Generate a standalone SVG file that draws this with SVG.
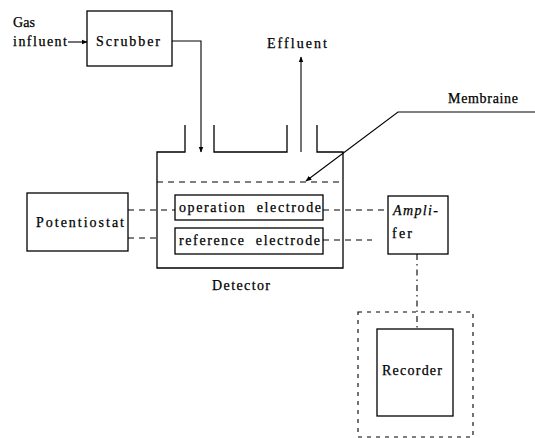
<svg xmlns="http://www.w3.org/2000/svg" width="535" height="438" viewBox="0 0 535 438">
<style>
.box{fill:none;stroke:#000;stroke-width:1.3}
.ln{fill:none;stroke:#000;stroke-width:1.1}
.dash{fill:none;stroke:#000;stroke-width:1.1;stroke-dasharray:6 5}
.dd{fill:none;stroke:#000;stroke-width:1.1;stroke-dasharray:6 4 1.5 4}
text{font-family:"Liberation Serif","DejaVu Serif",serif;font-size:14px;fill:#000;stroke:#000;stroke-width:0.25}
.it{font-style:italic}
</style>
<defs>
<marker id="ah" viewBox="0 0 10 10" refX="9" refY="5" markerWidth="6" markerHeight="6" orient="auto-start-reverse" markerUnits="userSpaceOnUse">
<path d="M0,1 L10,5 L0,9 z" fill="#000"/>
</marker>
</defs>
<rect width="535" height="438" fill="#fff"/>
<g id="gas-influent">
<text x="13" y="27" textLength="22" lengthAdjust="spacing">Gas</text>
<text x="13" y="46" textLength="54" lengthAdjust="spacing">influent</text>
</g>
<g id="scrubber">
<rect class="box" x="87" y="11" width="85" height="55"/>
<text x="96" y="46" textLength="64" lengthAdjust="spacing">Scrubber</text>
</g>
<g id="effluent">
<text x="267" y="48" textLength="60" lengthAdjust="spacing">Effluent</text>
</g>
<g id="membraine">
<text x="448" y="103" textLength="70" lengthAdjust="spacing">Membraine</text>
</g>
<g id="detector">
<path class="box" d="M185,125 V152 H157 V268 H343 V152 H317 V125"/>
<path class="box" d="M214,125 V152 H287 V125"/>
<line class="dash" x1="157" y1="182" x2="343" y2="182"/>
<text x="212" y="290" textLength="58" lengthAdjust="spacing">Detector</text>
</g>
<g id="operation-electrode">
<rect class="box" x="175" y="195" width="148" height="25"/>
<text x="179" y="212" textLength="142" lengthAdjust="spacing" xml:space="preserve">operation  electrode</text>
</g>
<g id="reference-electrode">
<rect class="box" x="175" y="228" width="148" height="26"/>
<text x="179" y="245" textLength="141" lengthAdjust="spacing" xml:space="preserve">reference  electrode</text>
</g>
<g id="potentiostat">
<rect class="box" x="27" y="193" width="101" height="58"/>
<text x="36" y="227" textLength="88" lengthAdjust="spacing">Potentiostat</text>
</g>
<g id="amplifier">
<rect class="box" x="388" y="196" width="60" height="58"/>
<text class="it" x="393" y="215" textLength="45" lengthAdjust="spacing">Ampli-</text>
<text x="392" y="238" textLength="20" lengthAdjust="spacing">fer</text>
</g>
<g id="recorder">
<rect class="dash" x="358" y="312" width="115" height="125" style="stroke-dasharray:4 5"/>
<rect class="box" x="377" y="329" width="76" height="87"/>
<text x="382" y="375" textLength="60" lengthAdjust="spacing">Recorder</text>
</g>
<g id="connectors">
<line class="ln" x1="68" y1="42" x2="87" y2="42" marker-end="url(#ah)"/>
<path class="ln" d="M172,41 H201 V152" marker-end="url(#ah)"/>
<line class="ln" x1="301" y1="152" x2="301" y2="57" marker-end="url(#ah)"/>
<path class="ln" d="M535,112 H398 L306,181" marker-end="url(#ah)"/>
<line class="dash" x1="128" y1="210" x2="175" y2="210"/>
<line class="dash" x1="128" y1="238" x2="157" y2="238"/>
<line class="dash" x1="323" y1="210" x2="388" y2="210"/>
<line class="dash" x1="323" y1="240" x2="372" y2="240"/>
<line class="dd" x1="417" y1="254" x2="417" y2="329"/>
</g>
</svg>
